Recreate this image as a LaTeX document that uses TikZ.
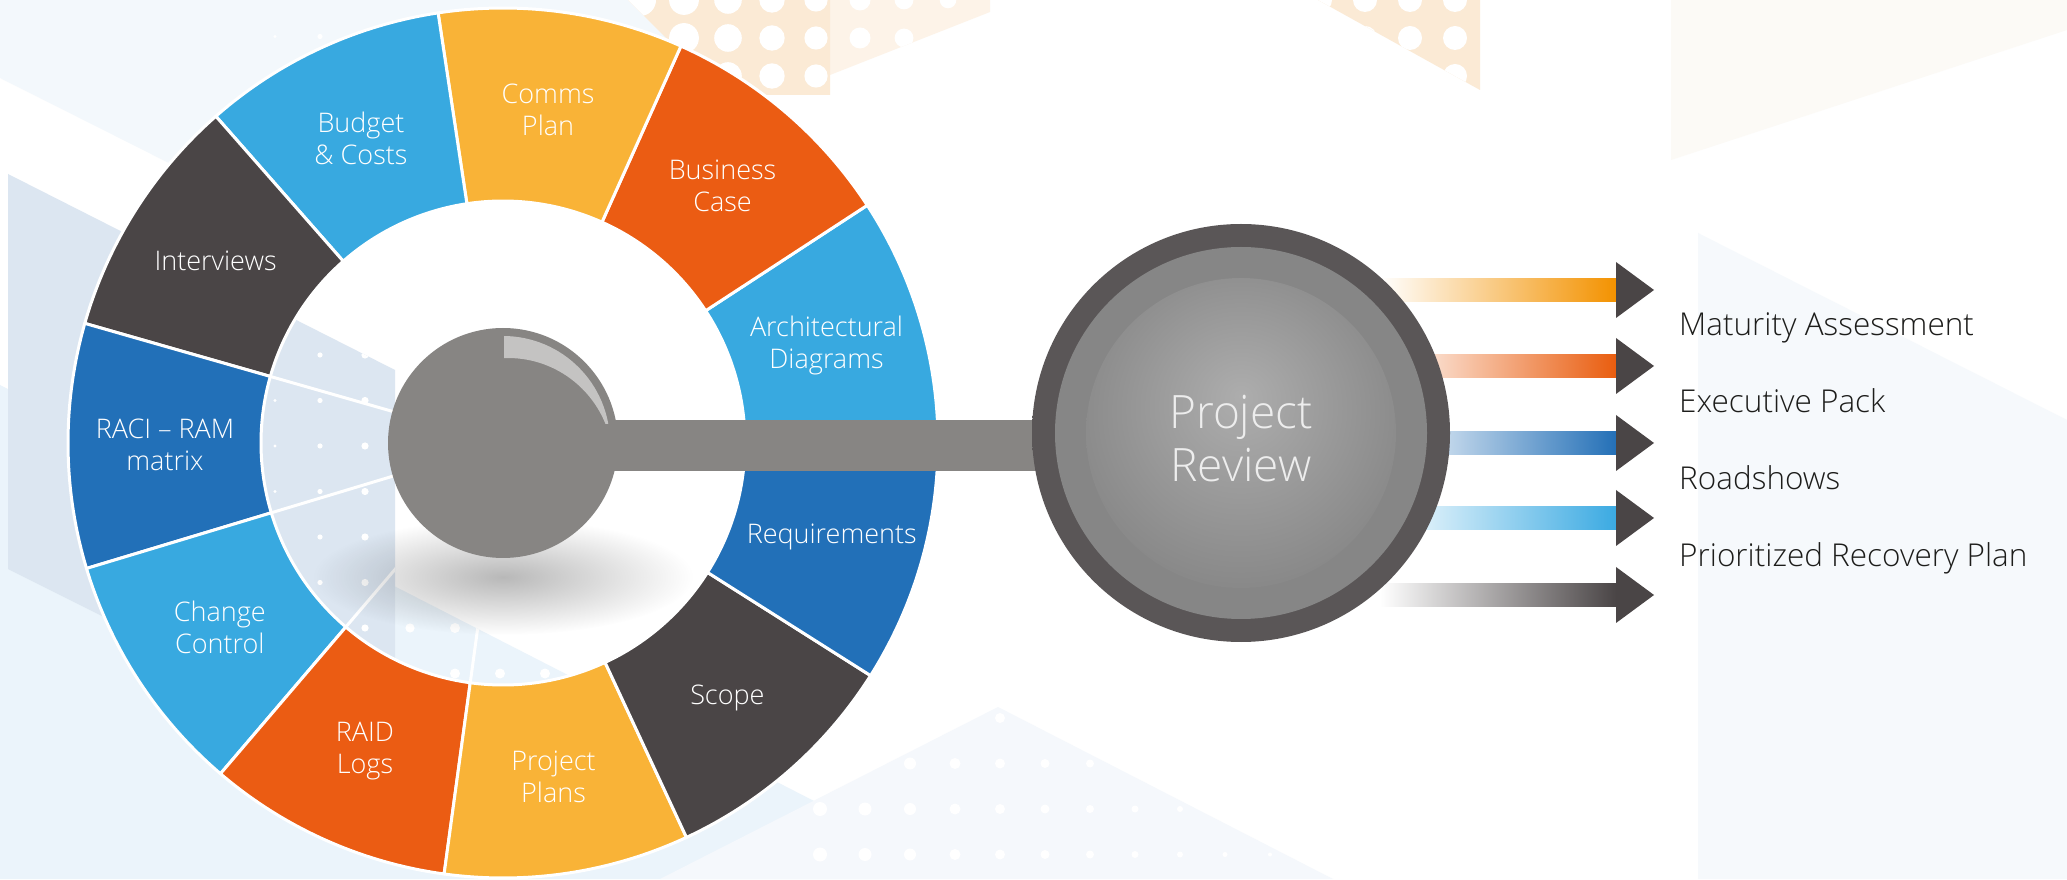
\documentclass[tikz,border=0pt]{standalone}
\usepackage{fontspec}
\setmainfont{Open Sans}[UprightFont={* Light}]
\usetikzlibrary{fadings}
\definecolor{cLB}{HTML}{38A9E0}
\definecolor{cOR}{HTML}{EB5C13}
\definecolor{cYE}{HTML}{F9B337}
\definecolor{cDG}{HTML}{4A4546}
\definecolor{cDB}{HTML}{2270B8}
\definecolor{cSph}{HTML}{878583}
\definecolor{cHi}{HTML}{C4C3C2}
\definecolor{rA}{HTML}{5A5657}
\definecolor{rB}{HTML}{3E3A3B}
\definecolor{rMid}{HTML}{868686}
\definecolor{rIn1}{HTML}{ADADAD}
\definecolor{rIn2}{HTML}{6B6B6B}
\definecolor{aOr}{HTML}{F39200}
\definecolor{aRe}{HTML}{E95D0F}
\definecolor{aBl}{HTML}{2470B7}
\definecolor{aLb}{HTML}{3BAAE2}
\definecolor{bgPa}{HTML}{F3F8FC}
\definecolor{bgPb}{HTML}{DCE6F1}
\definecolor{bgPc}{HTML}{EBF4FB}
\definecolor{bgT}{HTML}{F5F8FC}
\definecolor{bgR}{HTML}{F6F9FC}
\definecolor{bgC}{HTML}{FCFAF6}
\definecolor{bgOa}{HTML}{FBEAD5}
\definecolor{bgOb}{HTML}{FDF3E8}
\definecolor{txt}{HTML}{1D1D1B}
\definecolor{revtxt}{HTML}{EDEDED}
\pgfdeclareradialshading{outerringshade}{\pgfpoint{0bp}{0bp}}{color(0bp)=(rA); color(44bp)=(rA); color(50bp)=(rB)}
\pgfdeclareradialshading{innerdiscshade}{\pgfpoint{0bp}{6bp}}{color(0bp)=(rIn1); color(50bp)=(rIn2)}
\tikzfading[name=softshadow, inner color=transparent!0, outer color=transparent!100]
\tikzset{
  segment/.style={draw=white, line width=3pt, line join=round},
  seglbl/.style={text=white, align=center, font=\fontsize{27}{32}\selectfont, inner sep=0pt},
  outlbl/.style={text=txt, anchor=base west, font=\fontsize{31.5}{36}\selectfont, inner sep=0pt},
  headshape/.style={fill=cDG},
  sepline/.style={draw=white, line width=3pt},
}
\begin{document}
\begin{tikzpicture}[x=1pt,y=1pt]
\useasboundingbox (0,0) rectangle (2067,879);
\clip (0,0) rectangle (2067,879);
\fill[white] (0,0) rectangle (2067,879);
% ---------- background (image coordinates, y downwards) ----------
\begin{scope}[shift={(0,879)}, yscale=-1]
  \fill[bgPa] (0,0) -- (628,0) -- (760,130) -- (300,229) -- (0,78) -- cycle;
  \fill[bgPc] (0,385) -- (396,587) -- (900,845) -- (900,879) -- (0,879) -- cycle;
  \fill[bgPb] (8,174) -- (395,370) -- (395,763) -- (8,569) -- cycle;
  \fill[bgT] (998,707) -- (1333,879) -- (660,879) -- cycle;
  \fill[bgR] (1698,233) -- (2067,420) -- (2067,879) -- (1698,879) -- cycle;
  \fill[bgC] (1671,0) -- (2067,0) -- (2067,30) -- (1671,160) -- cycle;
  \fill[bgOb] (830,0) -- (990,0) -- (990,12) -- (830,75) -- cycle;
  \fill[bgOa] (628,0) -- (830,0) -- (830,95) -- (723,95) -- cycle;
  \fill[bgOa] (1318,0) -- (1480,0) -- (1480,90) -- cycle;
  \begin{scope}
    \clip (628,0) -- (990,0) -- (990,12) -- (830,75) -- (830,95) -- (723,95) -- cycle;
    \foreach \x in {640,684,...,990} {\foreach \y in {0,38,76} {
      \pgfmathsetmacro{\dr}{max(16-(\x-640)/40,4)}
      \fill[white] (\x,\y) circle[radius=\dr];}}
  \end{scope}
  \begin{scope}
    \clip (1318,0) -- (1480,0) -- (1480,90) -- cycle;
    \foreach \x in {1320,1365,...,1480} {\foreach \y in {0,38,76} {
      \fill[white] (\x,\y) circle[radius=12];}}
  \end{scope}
  \begin{scope}
    \clip (998,707) -- (1333,879) -- (660,879) -- cycle;
    \foreach \x in {820,865,...,1330} {\foreach \y in {718,763.5,...,880} {
      \pgfmathsetmacro{\dr}{max(7-(\x-820)/90,1.5)}
      \fill[white] (\x,\y) circle[radius=\dr];}}
  \end{scope}
  \begin{scope}
    \clip (8,174) -- (395,370) -- (395,763) -- (8,569) -- cycle
          (0,385) -- (396,587) -- (900,845) -- (900,879) -- (0,879) -- cycle
          (0,0) -- (628,0) -- (760,130) -- (300,229) -- (0,78) -- cycle;
    \foreach \x in {275,320,...,590} {\foreach \y in {36.5,82,...,720} {
      \pgfmathsetmacro{\dr}{min(1.6+(\x-275)/45,5)}
      \fill[white] (\x,\y) circle[radius=\dr];}}
    \foreach \i in {0,...,10} {
      \pgfmathsetmacro{\aa}{0.4+32.7273*\i}
      \draw[sepline] (503,443) -- ++(-\aa:435);}
  \end{scope}
\end{scope}
% ---------- shadow under the hub ----------
\fill[black, fill opacity=0.28, path fading=softshadow] (503,302) ellipse [x radius=190, y radius=58];
% ---------- ring ----------
\begin{scope}[shift={(503,436)}]
  \foreach \i/\col in {0/cLB,1/cOR,2/cYE,3/cLB,4/cDG,5/cDB,6/cLB,7/cOR,8/cYE,9/cDG,10/cDB} {
    \pgfmathsetmacro{\aa}{0.4+32.7273*\i}
    \pgfmathsetmacro{\ab}{\aa+32.7273}
    \path[segment, fill=\col] (\aa:435) arc[start angle=\aa, end angle=\ab, radius=435]
      -- (\ab:242) arc[start angle=\ab, end angle=\aa, radius=242] -- cycle;
  }
  \node[seglbl] (arch) at (16.8:338) {Architectural\\Diagrams};
  \node[seglbl] (bcase) at (49.5:338) {Business\\Case};
  \node[seglbl] (comms) at (82.3:336) {Comms\\Plan};
  \node[seglbl] (budget) at (115.0:336) {Budget\\\& Costs};
  \node[seglbl] (interv) at (147.7:340) {Interviews};
  \node[seglbl] (raci) at (180.4:338) {RACI – RAM\\matrix};
  \node[seglbl] (change) at (213.1:338) {Change\\Control};
  \node[seglbl] (raid) at (245.9:338) {RAID\\Logs};
  \node[seglbl] (pplans) at (278.6:338) {Project\\Plans};
  \node[seglbl] (scope) at (311.3:340) {Scope};
  \node[seglbl] (reqs) at (344.0:342) {Requirements};
\end{scope}
% ---------- output arrows ----------
\foreach \yc/\col/\nm in {589/aOr/a1, 513/aRe/a2, 436/aBl/a3, 361/aLb/a4, 284/cDG/a5} {
  \shade[left color=white, right color=\col] (1380,\yc-11.5) rectangle (1616,\yc+11.5);
  \coordinate (\nm) at (1654,\yc);
  \fill[headshape] (1616,\yc+28) -- (\nm) -- (1616,\yc-28) -- cycle;
}
% ---------- stem ----------
\fill[cSph] (503,408) rectangle (1150,459);
% ---------- hub sphere ----------
\node[circle, fill=cSph, minimum size=230, inner sep=0pt] (hub) at (503,436) {};
\begin{scope}
  \clip (504,455) rectangle (640,560);
  \fill[cHi, even odd rule] (503,436) circle[radius=107] (508,416) circle[radius=105];
\end{scope}
% ---------- project review disc ----------
\shade[shading=outerringshade] (1241,446) circle[radius=209];
\fill[rMid] (1241,446) circle[radius=186];
\shade[shading=innerdiscshade] (1241,446) circle[radius=155];
\node[font=\fontsize{46}{53}\selectfont, text=revtxt, align=center, inner sep=0pt] (review) at (1241,440) {Project\\Review};
% ---------- output labels ----------
\node[outlbl] (mat) at (1679,543) {Maturity Assessment};
\node[outlbl] (exec) at (1679,466) {Executive Pack};
\node[outlbl] (road) at (1679,389) {Roadshows};
\node[outlbl] (prio) at (1679,312) {Prioritized Recovery Plan};
\end{tikzpicture}
\end{document}
